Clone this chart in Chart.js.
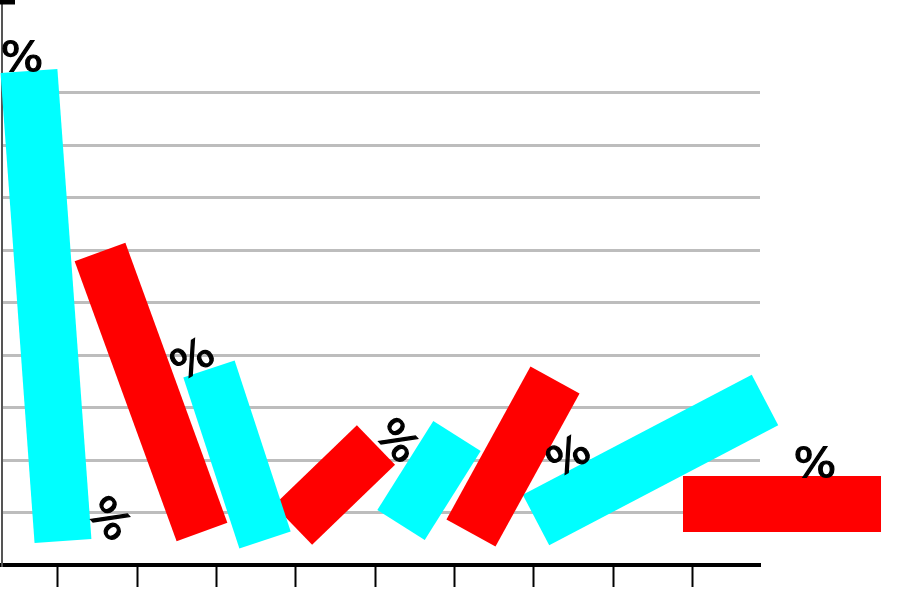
<!DOCTYPE html>
<html>
<head>
<meta charset="utf-8">
<script src="https://cdn.jsdelivr.net/npm/chart.js@4/dist/chart.umd.min.js"></script>
<style>
  body { margin: 0; background: #fff; }
  #wrap { width: 900px; height: 600px; }
</style>
</head>
<body>
<div id="wrap"><canvas id="barsChart"></canvas></div>
<script>
// tick positions
const xTicks = [1, 2, 3, 4, 5, 6, 7, 8, 9];
const yTicks = [1, 2, 3, 4, 5, 6, 7, 8, 9];

// each bar = start point and end point of its centre line
const barStart = [
  {x: 0.634, y: 9.41},
  {x: 1.530, y: 5.962},
  {x: 2.904, y: 3.733},
  {x: 3.964, y: 0.762},
  {x: 5.326, y: 0.762},
  {x: 7.268, y: 3.524},
  {x: 7.028, y: 0.857},
  {x: 8.882, y: 1.162}
];
const barEnd = [
  {x: 1.063, y: 0.457},
  {x: 2.816, y: 0.629},
  {x: 3.611, y: 0.476},
  {x: 5.010, y: 2.286},
  {x: 6.032, y: 2.457},
  {x: 6.208, y: 0.610},
  {x: 9.916, y: 3.143},
  {x: 11.379, y: 1.162}
];
const barColor = ['#00ffff', '#ff0000', '#00ffff', '#ff0000', '#00ffff', '#ff0000', '#00ffff', '#ff0000'];
const barWidth = [57, 54, 54, 55, 56, 56, 57, 56];

// the "%" labels
const labelText = ['%', '%', '%', '%', '%', '%'];
const labelPos = [
  {x: 0.546, y: 9.695},
  {x: 1.656, y: 0.895},
  {x: 2.690, y: 3.943},
  {x: 5.288, y: 2.381},
  {x: 7.431, y: 2.095},
  {x: 10.546, y: 1.962}
];
const labelAngle = [0, 48, -30, 48, -30, 0];

// short black mark at the top left
const topMark = [{x: 0.269, y: 10.724}, {x: 0.458, y: 10.724}];

const datasets = barStart.map((s, i) => ({
  label: 'bar' + i,
  data: [s, barEnd[i]],
  showLine: true,
  borderColor: barColor[i],
  borderWidth: barWidth[i],
  borderCapStyle: 'butt',
  pointRadius: 0,
  clip: false
}));
datasets.push({
  label: 'mark',
  data: topMark,
  showLine: true,
  borderColor: '#000',
  borderWidth: 5,
  borderCapStyle: 'butt',
  pointRadius: 0,
  clip: false
});
datasets.push({
  label: 'labels',
  data: labelPos,
  showLine: false,
  pointRadius: 0,
  clip: false
});
const labelIdx = datasets.length - 1;

const fontSize = 41;
const pctPlugin = {
  id: 'pctLabels',
  afterDatasetsDraw(chart) {
    const c = chart.ctx;
    const meta = chart.getDatasetMeta(labelIdx);
    c.save();
    c.font = fontSize + 'px "DejaVu Sans"';
    c.fillStyle = '#000';
    c.strokeStyle = '#000';
    c.lineWidth = 1.2;
    c.textAlign = 'center';
    c.textBaseline = 'alphabetic';
    meta.data.forEach((pt, i) => {
      c.save();
      c.translate(pt.x, pt.y);
      c.rotate(labelAngle[i] * Math.PI / 180);
      c.scale(1.1, 1);
      c.fillText(labelText[i], 0, fontSize * 0.36);
      c.strokeText(labelText[i], 0, fontSize * 0.36);
      c.restore();
    });
    c.restore();
  }
};

new Chart(document.getElementById('barsChart'), {
  type: 'scatter',
  data: { datasets: datasets },
  options: {
    responsive: true,
    maintainAspectRatio: false,
    animation: false,
    layout: { padding: { top: 0, left: 0, right: 140, bottom: 0 } },
    plugins: { legend: { display: false }, tooltip: { enabled: false } },
    scales: {
      x: {
        type: 'linear',
        min: 0.294,
        max: 9.853,
        afterBuildTicks: s => { s.ticks = xTicks.map(v => ({ value: v })); },
        afterFit: s => { s.height = 35; },
        ticks: { display: false },
        grid: { drawOnChartArea: false, drawTicks: true, tickLength: 22, tickColor: '#000', tickWidth: 2 },
        border: { display: true, color: '#000', width: 4 }
      },
      y: {
        type: 'linear',
        min: 0,
        max: 10.762,
        afterBuildTicks: s => { s.ticks = yTicks.map(v => ({ value: v })); },
        afterFit: s => { s.width = 2; },
        ticks: { display: false },
        grid: { color: '#bdbdbd', lineWidth: 3, drawTicks: false },
        border: { display: true, color: '#555', width: 2 }
      }
    }
  },
  plugins: [pctPlugin]
});
</script>
</body>
</html>
